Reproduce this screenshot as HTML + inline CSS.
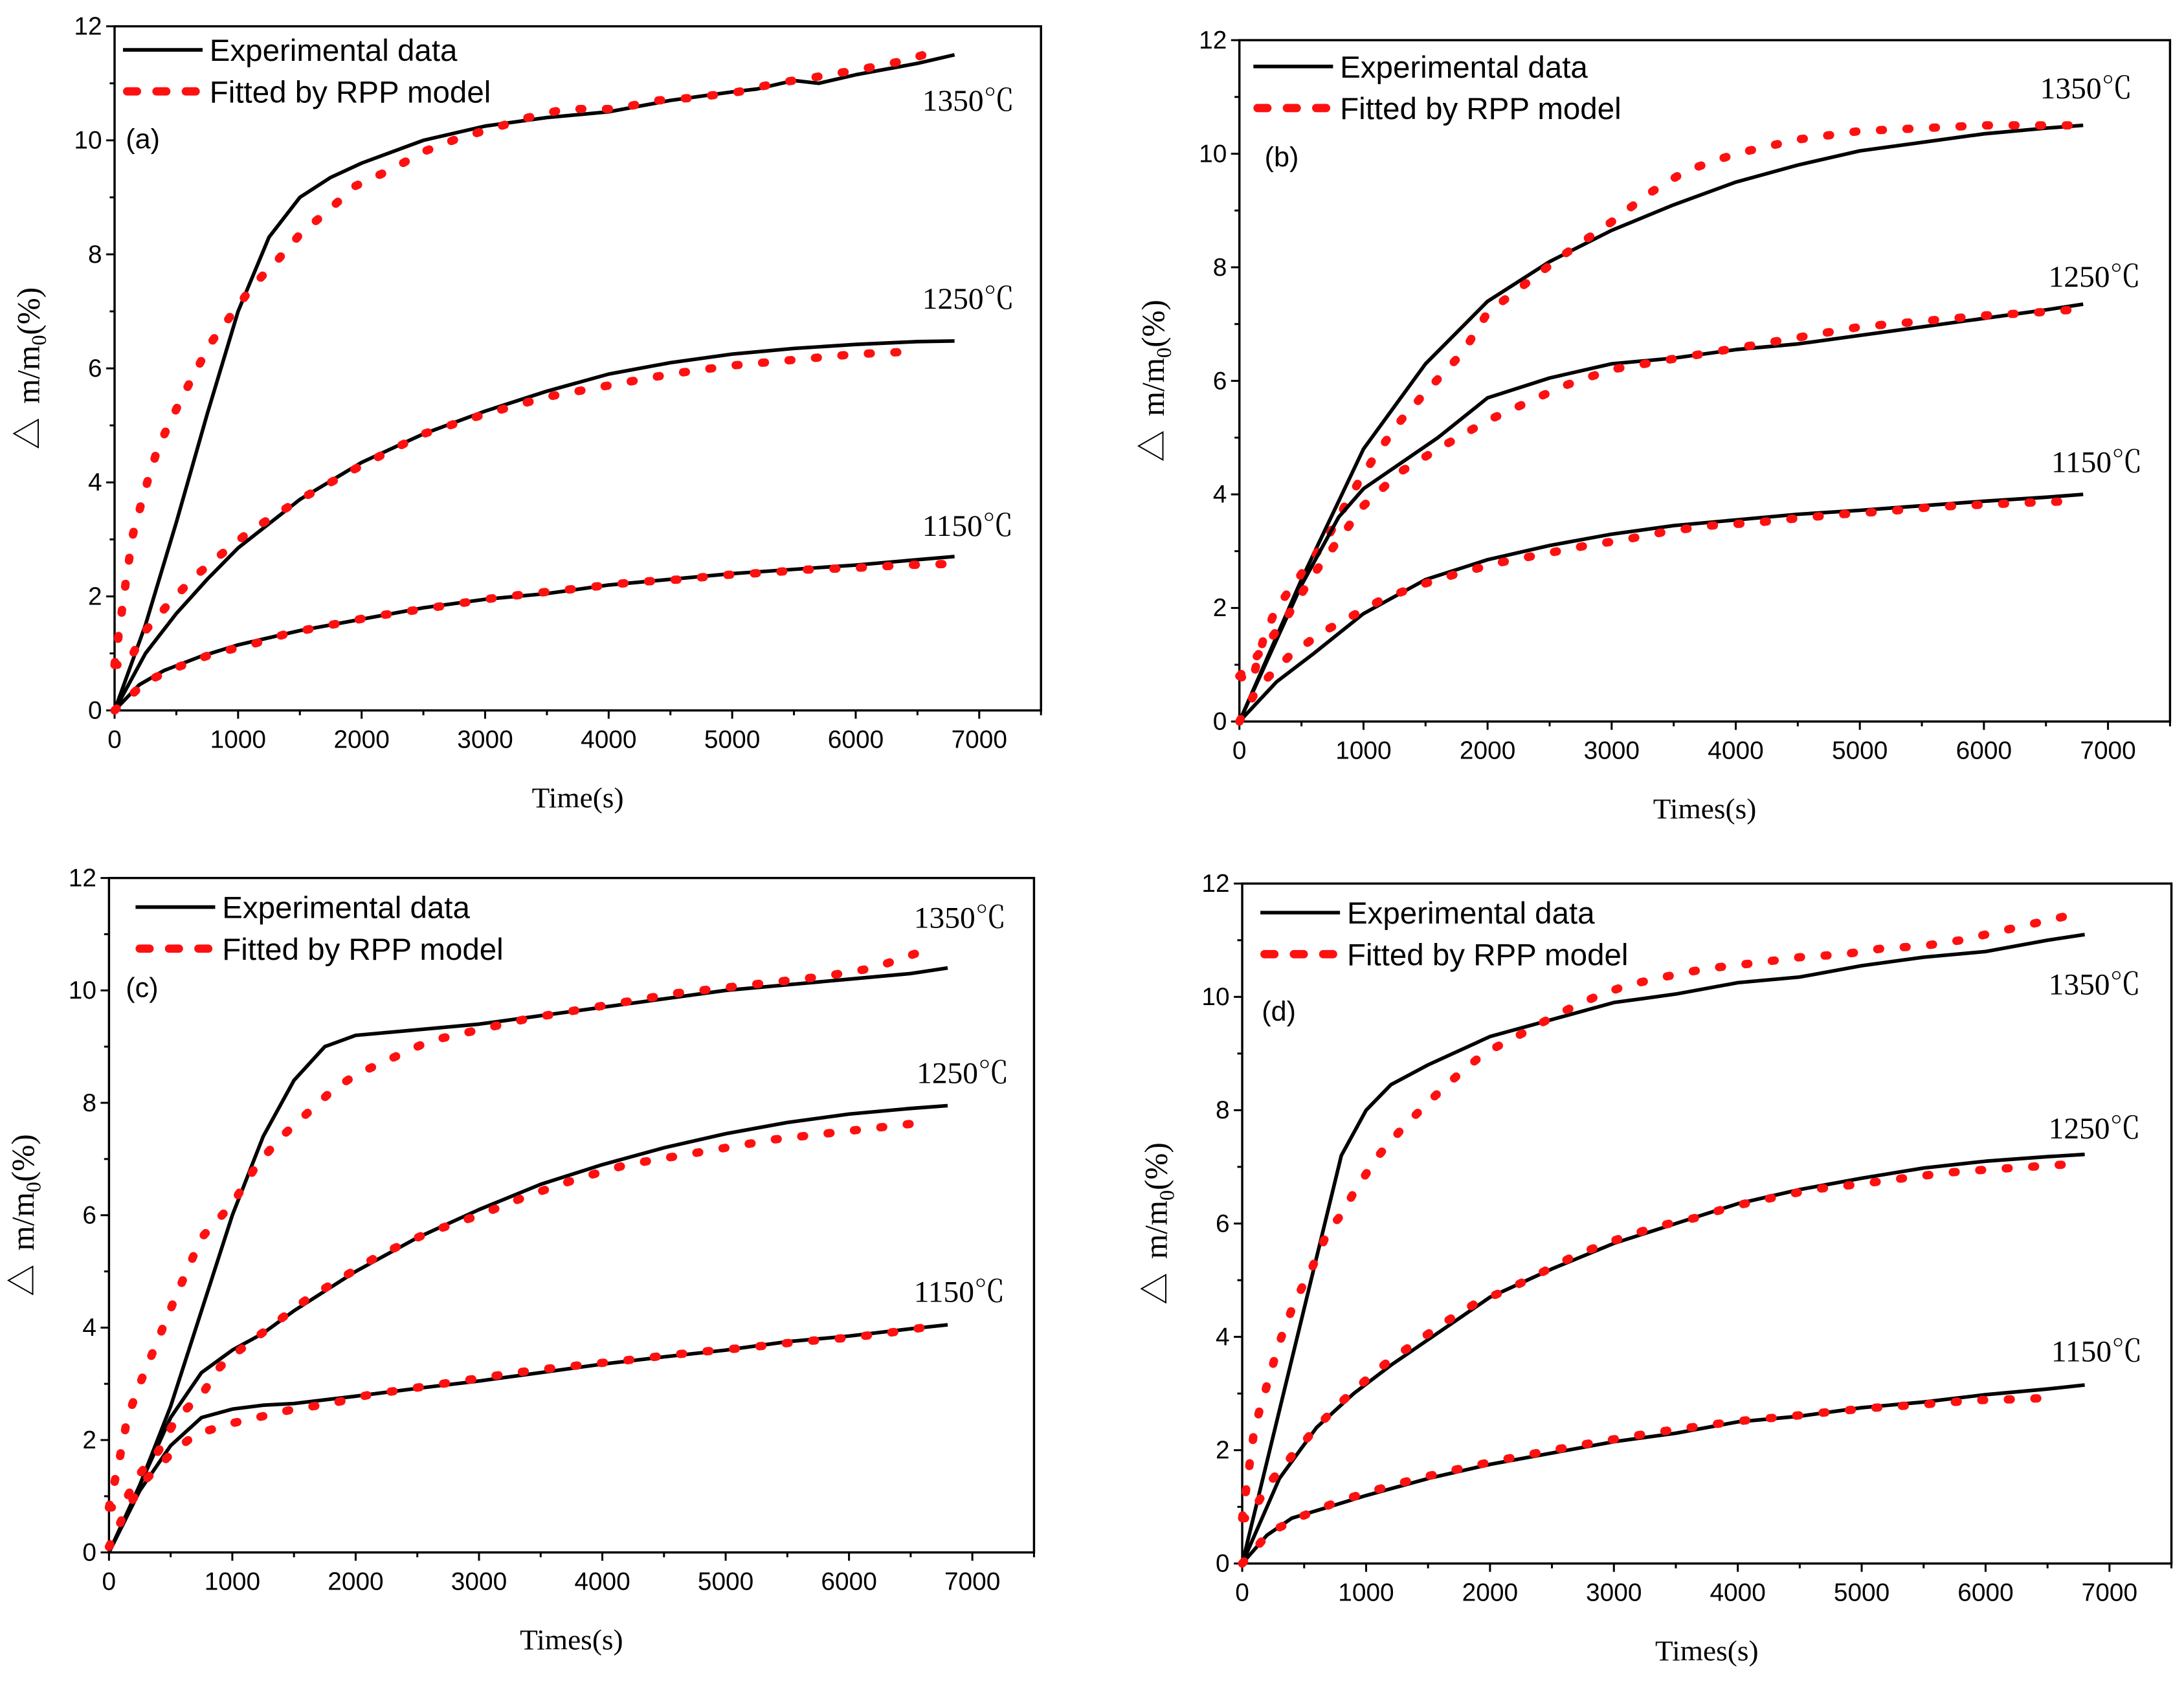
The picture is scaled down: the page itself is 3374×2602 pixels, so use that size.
<!DOCTYPE html>
<html><head><meta charset="utf-8"><style>html,body{margin:0;padding:0;background:#fff}svg{display:block}</style></head>
<body>
<svg id="fig" width="3374" height="2602" viewBox="0 0 1563 1216" preserveAspectRatio="none" xmlns="http://www.w3.org/2000/svg"></svg>
<script>
// ---- data (time in s, mass gain in %) ----
const A_exp1350_t=[0,250,500,750,1000,1250,1500,1750,2000,2500,3000,3500,4000,4500,5000,5200,5500,5700,6000,6500,6800];
const A_exp1350_v=[0,1.5,3.3,5.2,7.0,8.3,9.0,9.35,9.6,10.0,10.25,10.4,10.5,10.7,10.85,10.9,11.05,11.0,11.15,11.35,11.5];
const A_fit1350_t=[0,50,100,150,250,350,480,620,780,950,1120,1320,1500,1720,1950,2250,2500,2800,3050,3350,3650,4050,4400,4700,5050,5350,5650,6050,6400,6700];
const A_fit1350_v=[0.8,1.6,2.4,3.1,3.9,4.6,5.2,5.8,6.45,6.95,7.45,7.9,8.35,8.75,9.2,9.5,9.8,10.05,10.2,10.4,10.55,10.55,10.7,10.75,10.85,11.0,11.1,11.25,11.4,11.6];
const A_exp1250_t=[0,250,500,750,1000,1500,2000,2500,3000,3500,4000,4500,5000,5500,6000,6500,6800];
const A_exp1250_v=[0,1.0,1.7,2.3,2.85,3.7,4.35,4.85,5.25,5.6,5.9,6.1,6.25,6.35,6.42,6.47,6.48];
const A_fit1250_t=[0,100,250,450,650,870,1100,1500,2000,2500,3000,3500,4000,4500,5000,5500,6000,6500];
const A_fit1250_v=[0.8,0.8,1.4,1.9,2.35,2.75,3.15,3.7,4.3,4.85,5.2,5.5,5.7,5.9,6.05,6.15,6.25,6.3];
const A_exp1150_t=[0,200,400,700,1000,1500,2000,2500,3000,3500,4000,5000,6000,6800];
const A_exp1150_v=[0,0.45,0.7,0.95,1.15,1.4,1.6,1.8,1.95,2.05,2.2,2.4,2.55,2.7];
const A_fit1150_t=[0,250,500,800,1100,1400,1750,2100,2500,2800,3100,3500,3800,4200,4600,4900,5300,5600,6000,6400,6750];
const A_fit1150_v=[0,0.5,0.75,1.0,1.15,1.35,1.5,1.65,1.78,1.88,1.98,2.08,2.15,2.25,2.3,2.37,2.42,2.47,2.5,2.55,2.57];

const B_exp1350_t=[0,500,1000,1500,2000,2500,3000,3500,4000,4500,5000,5500,6000,6500,6800];
const B_exp1350_v=[0,2.5,4.8,6.3,7.4,8.1,8.65,9.1,9.5,9.8,10.05,10.2,10.35,10.45,10.5];
const B_fit1350_t=[0,100,200,300,500,700,900,1100,1300,1500,1800,2000,2300,2600,3000,3300,3600,4000,4500,5000,5500,6000,6500,6700];
const B_fit1350_v=[0.8,0.7,1.5,2.0,2.6,3.2,4.0,4.7,5.3,5.8,6.5,7.2,7.7,8.2,8.8,9.3,9.7,10.0,10.25,10.4,10.45,10.5,10.5,10.5];
const B_exp1250_t=[0,500,800,1000,1300,1600,2000,2500,3000,3500,4000,4500,5000,5500,6000,6500,6800];
const B_exp1250_v=[0,2.4,3.6,4.1,4.55,5.0,5.7,6.05,6.3,6.4,6.55,6.65,6.8,6.95,7.1,7.25,7.35];
const B_fit1250_t=[0,200,400,600,800,1000,1300,1600,2000,2300,2600,3000,3400,3800,4200,4600,5000,5500,6000,6400,6700];
const B_fit1250_v=[0.8,1.3,1.9,2.6,3.2,3.8,4.4,4.8,5.3,5.6,5.9,6.2,6.35,6.5,6.65,6.8,6.95,7.05,7.15,7.2,7.25];
const B_exp1150_t=[0,300,600,1000,1500,2000,2500,3000,3500,4000,4500,5000,5500,6000,6500,6800];
const B_exp1150_v=[0,0.7,1.2,1.9,2.5,2.85,3.1,3.3,3.45,3.55,3.65,3.72,3.8,3.88,3.95,4.0];
const B_fit1150_t=[0,150,400,650,900,1150,1450,1750,2100,2450,2800,3100,3450,3800,4150,4500,4850,5200,5600,6000,6300,6700];
const B_fit1150_v=[0,0.6,1.15,1.55,1.85,2.15,2.4,2.6,2.8,2.95,3.1,3.2,3.35,3.45,3.5,3.58,3.65,3.7,3.78,3.82,3.85,3.88];

const C_exp1350_t=[0,250,500,750,1000,1250,1500,1750,2000,2500,3000,3500,4000,4500,5000,5500,6000,6500,6800];
const C_exp1350_v=[0,1.2,2.6,4.3,6.0,7.4,8.4,9.0,9.2,9.3,9.4,9.55,9.7,9.85,10.0,10.1,10.2,10.3,10.4];
const C_fit1350_t=[0,80,150,250,400,550,750,1000,1200,1400,1600,1800,2000,2300,2600,3000,3400,3800,4200,4600,5000,5400,5800,6200,6600];
const C_fit1350_v=[0.8,1.6,2.4,3.0,3.8,4.6,5.6,6.2,6.9,7.4,7.8,8.2,8.5,8.8,9.1,9.3,9.5,9.65,9.8,9.95,10.05,10.15,10.25,10.4,10.7];
const C_exp1250_t=[0,250,500,750,1000,1250,1500,2000,2500,3000,3500,4000,4500,5000,5500,6000,6500,6800];
const C_exp1250_v=[0,1.2,2.4,3.2,3.6,3.9,4.3,5.0,5.6,6.1,6.55,6.9,7.2,7.45,7.65,7.8,7.9,7.95];
const C_fit1250_t=[0,100,250,400,550,750,900,1000,1300,1600,1900,2200,2600,3000,3400,3800,4200,4600,5000,5400,5800,6200,6600];
const C_fit1250_v=[0.8,0.8,1.4,1.8,2.4,2.8,3.3,3.5,4.0,4.5,4.9,5.3,5.7,6.0,6.35,6.65,6.9,7.05,7.2,7.35,7.45,7.55,7.65];
const C_exp1150_t=[0,250,500,750,1000,1250,1500,2000,2500,3000,3500,4000,4500,5000,5500,6000,6500,6800];
const C_exp1150_v=[0,1.1,1.9,2.4,2.55,2.62,2.65,2.78,2.92,3.05,3.2,3.35,3.48,3.6,3.75,3.85,3.98,4.05];
const C_fit1150_t=[0,150,300,500,700,1000,1300,1500,1800,2100,2400,2700,3000,3300,3600,3900,4200,4500,4800,5200,5600,6000,6300,6600];
const C_fit1150_v=[0.1,0.8,1.3,1.75,2.1,2.3,2.45,2.55,2.65,2.8,2.9,3.0,3.1,3.2,3.28,3.35,3.42,3.5,3.57,3.65,3.75,3.82,3.9,4.0];

const D_exp1350_t=[0,200,400,600,800,1000,1200,1500,2000,2500,3000,3500,4000,4500,5000,5500,6000,6500,6800];
const D_exp1350_v=[0,1.8,3.6,5.4,7.2,8.0,8.45,8.8,9.3,9.6,9.9,10.05,10.25,10.35,10.55,10.7,10.8,11.0,11.1];
const D_fit1350_t=[0,50,100,200,300,420,570,700,780,930,1100,1300,1530,1730,1950,2300,2550,2850,3100,3400,3750,4150,4500,4850,5150,5500,5800,6200,6500,6800];
const D_fit1350_v=[0.8,1.6,2.4,3.15,3.9,4.6,5.25,5.9,6.1,6.65,7.2,7.7,8.2,8.6,9.0,9.4,9.7,10.0,10.2,10.35,10.5,10.6,10.7,10.75,10.85,10.9,11.0,11.2,11.35,11.5];
const D_exp1250_t=[0,300,600,900,1200,1500,2000,2500,3000,3500,4000,4500,5000,5500,6000,6500,6800];
const D_exp1250_v=[0,1.5,2.4,3.0,3.5,3.95,4.7,5.2,5.65,6.0,6.35,6.6,6.8,6.98,7.1,7.18,7.22];
const D_fit1250_t=[0,50,230,420,620,800,1030,1170,1400,1630,1890,2160,2430,2700,3000,3350,3660,3950,4270,4600,5000,5340,5700,6000,6350,6700,6800];
const D_fit1250_v=[0.8,0.8,1.45,1.95,2.45,2.85,3.3,3.55,3.9,4.25,4.6,4.85,5.15,5.45,5.7,5.95,6.1,6.3,6.45,6.6,6.7,6.8,6.9,6.95,7.0,7.05,7.05];
const D_exp1150_t=[0,200,400,700,1000,1500,2000,2500,3000,3500,4000,4500,5000,5500,6000,6500,6800];
const D_exp1150_v=[0,0.5,0.8,1.0,1.2,1.5,1.75,1.95,2.15,2.3,2.5,2.6,2.75,2.85,2.98,3.08,3.15];
const D_fit1150_t=[0,220,500,780,1080,1380,1650,1770,2070,2380,2700,3020,3350,3680,3780,4080,4430,4760,5110,5450,5800,5900,6250,6600];
const D_fit1150_v=[0,0.55,0.85,1.1,1.3,1.48,1.62,1.68,1.82,1.95,2.08,2.2,2.32,2.42,2.45,2.53,2.6,2.68,2.75,2.8,2.86,2.88,2.9,2.93];

const xTicks=[0,1000,2000,3000,4000,5000,6000,7000];
const yTicks=[0,2,4,6,8,10,12];
const tempLabels=["1350℃","1250℃","1150℃"];

const NS="http://www.w3.org/2000/svg";
const svg=document.getElementById('fig');
function el(tag,attrs,parent,txt){const e=document.createElementNS(NS,tag);for(const k in attrs)e.setAttribute(k,attrs[k]);if(txt!==undefined)e.textContent=txt;(parent||svg).appendChild(e);return e;}

const panels=[
 {id:'a',x0:82,x1:745,y0:19,y1:513,xlab:'Time(s)',
  series:[[A_exp1350_t,A_exp1350_v,A_fit1350_t,A_fit1350_v],[A_exp1250_t,A_exp1250_v,A_fit1250_t,A_fit1250_v],[A_exp1150_t,A_exp1150_v,A_fit1150_t,A_fit1150_v]],
  temps:[[660,80],[660,223],[660,387]],leg:[88,36],lab:[90,107]},
 {id:'b',x0:887,x1:1553,y0:29,y1:521,xlab:'Times(s)',
  series:[[B_exp1350_t,B_exp1350_v,B_fit1350_t,B_fit1350_v],[B_exp1250_t,B_exp1250_v,B_fit1250_t,B_fit1250_v],[B_exp1150_t,B_exp1150_v,B_fit1150_t,B_fit1150_v]],
  temps:[[1460,71],[1466,207],[1468,341]],leg:[897,48],lab:[905,120]},
 {id:'c',x0:78,x1:740,y0:634,y1:1121,xlab:'Times(s)',
  series:[[C_exp1350_t,C_exp1350_v,C_fit1350_t,C_fit1350_v],[C_exp1250_t,C_exp1250_v,C_fit1250_t,C_fit1250_v],[C_exp1150_t,C_exp1150_v,C_fit1150_t,C_fit1150_v]],
  temps:[[654,670],[656,782],[654,940]],leg:[97,655],lab:[90,720]},
 {id:'d',x0:889,x1:1554,y0:638,y1:1129,xlab:'Times(s)',
  series:[[D_exp1350_t,D_exp1350_v,D_fit1350_t,D_fit1350_v],[D_exp1250_t,D_exp1250_v,D_fit1250_t,D_fit1250_v],[D_exp1150_t,D_exp1150_v,D_fit1150_t,D_fit1150_v]],
  temps:[[1466,718],[1466,822],[1468,983]],leg:[902,659],lab:[903,737]}
];
const SANS='"Liberation Sans", "DejaVu Sans", sans-serif';
const SERIF='"Liberation Serif", "Noto Serif CJK SC", serif';

panels.forEach(p=>{
  const g=el('g',{});
  
  
  const sx=t=>p.x0+t/7500*(p.x1-p.x0);
  const sy=v=>p.y1-v/12*(p.y1-p.y0);
  for(let t=0;t<=7500;t+=500){const maj=t%1000===0;el('line',{x1:sx(t),x2:sx(t),y1:p.y1,y2:p.y1+(maj?6:3.5),stroke:'#000','stroke-width':1.4},g);}
  for(let v=0;v<=12;v+=1){const maj=v%2===0;el('line',{x1:p.x0,x2:p.x0-(maj?6:3.5),y1:sy(v),y2:sy(v),stroke:'#000','stroke-width':1.4},g);}
  xTicks.forEach(t=>{const e=el('text',{x:sx(t),y:p.y1+27,'text-anchor':'middle','font-family':SANS,'font-size':18},g,String(t));});
  yTicks.forEach(v=>{const e=el('text',{x:p.x0-9,y:sy(v)+6,'text-anchor':'end','font-family':SANS,'font-size':18},g,String(v));});
  const fr=el('rect',{x:p.x0,y:p.y0,width:p.x1-p.x0,height:p.y1-p.y0,fill:'none',stroke:'#000','stroke-width':1.6},g);
  
  p.series.forEach((s,i)=>{
    const pe=el('polyline',{points:s[0].map((t,k)=>sx(t)+','+sy(s[1][k])).join(' '),fill:'none',stroke:'#000','stroke-width':2.6,'stroke-linejoin':'round'},g);
    
    
    const pf=el('polyline',{points:s[2].map((t,k)=>sx(t)+','+sy(s[3][k])).join(' '),fill:'none',stroke:'#ff1010','stroke-width':6,'stroke-linecap':'round','stroke-dasharray':'2 17'},g);
    
    
    const tl=el('text',{x:p.temps[i][0],y:p.temps[i][1],'font-family':SERIF,'font-size':22},g,tempLabels[i]);
    
  });
  const lg=el('g',{},g);
  
  const [lx,ly]=p.leg;
  el('line',{x1:lx,x2:lx+57,y1:ly,y2:ly,stroke:'#000','stroke-width':2.6},lg);
  el('text',{x:lx+62,y:ly+8,'font-family':SANS,'font-size':22},lg,'Experimental data');
  el('line',{x1:lx+3,x2:lx+54,y1:ly+30,y2:ly+30,stroke:'#ff1010','stroke-width':6,'stroke-linecap':'round','stroke-dasharray':'7 14'},lg);
  el('text',{x:lx+62,y:ly+38,'font-family':SANS,'font-size':22},lg,'Fitted by RPP model');
  const pl=el('text',{x:p.lab[0],y:p.lab[1],'font-family':SANS,'font-size':20},g,'('+p.id+')');
  
  const xl=el('text',{x:(p.x0+p.x1)/2,y:p.y1+70,'text-anchor':'middle','font-family':SERIF,'font-size':21},g,p.xlab);
  
  const cy=(p.y0+p.y1)/2, cx=p.x0-54;
  const yl=el('text',{x:cx,y:cy,'text-anchor':'middle','font-family':SERIF,'font-size':23,transform:'rotate(-90 '+cx+' '+cy+')'},g);
  
  el('tspan',{},yl,'△');
  el('tspan',{dx:10},yl,'m/m');
  el('tspan',{'font-size':15,dy:5},yl,'0');
  el('tspan',{dy:-5},yl,'(%)');
});
</script>
</body></html>
